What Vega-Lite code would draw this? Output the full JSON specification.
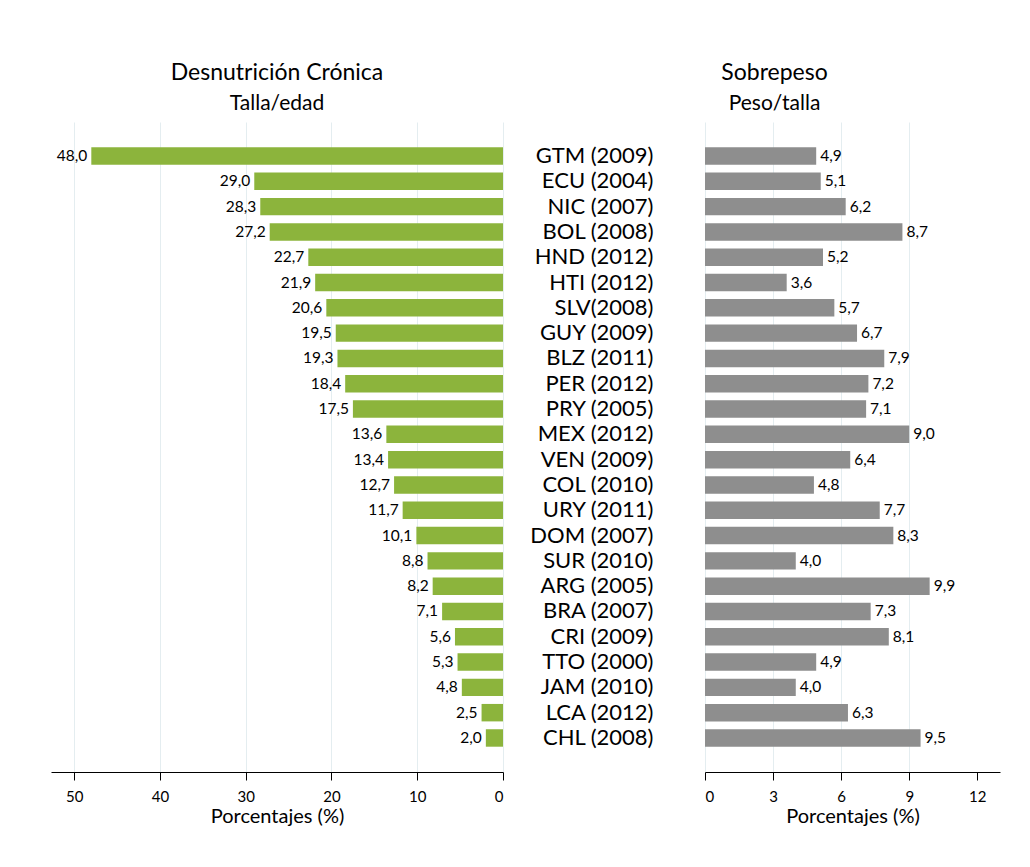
{
  "$schema": "https://vega.github.io/schema/vega-lite/v6.json",
  "padding": {"left": 51, "top": 62, "right": 5, "bottom": 5},
  "background": "white",
  "data": {"values": [
    {"pais": "GTM (2009)", "desn": 48.0, "sobre": 4.9},
    {"pais": "ECU (2004)", "desn": 29.0, "sobre": 5.1},
    {"pais": "NIC (2007)", "desn": 28.3, "sobre": 6.2},
    {"pais": "BOL (2008)", "desn": 27.2, "sobre": 8.7},
    {"pais": "HND (2012)", "desn": 22.7, "sobre": 5.2},
    {"pais": "HTI (2012)", "desn": 21.9, "sobre": 3.6},
    {"pais": "SLV(2008)", "desn": 20.6, "sobre": 5.7},
    {"pais": "GUY (2009)", "desn": 19.5, "sobre": 6.7},
    {"pais": "BLZ (2011)", "desn": 19.3, "sobre": 7.9},
    {"pais": "PER (2012)", "desn": 18.4, "sobre": 7.2},
    {"pais": "PRY (2005)", "desn": 17.5, "sobre": 7.1},
    {"pais": "MEX (2012)", "desn": 13.6, "sobre": 9.0},
    {"pais": "VEN (2009)", "desn": 13.4, "sobre": 6.4},
    {"pais": "COL (2010)", "desn": 12.7, "sobre": 4.8},
    {"pais": "URY (2011)", "desn": 11.7, "sobre": 7.7},
    {"pais": "DOM (2007)", "desn": 10.1, "sobre": 8.3},
    {"pais": "SUR (2010)", "desn": 8.8, "sobre": 4.0},
    {"pais": "ARG (2005)", "desn": 8.2, "sobre": 9.9},
    {"pais": "BRA (2007)", "desn": 7.1, "sobre": 7.3},
    {"pais": "CRI (2009)", "desn": 5.6, "sobre": 8.1},
    {"pais": "TTO (2000)", "desn": 5.3, "sobre": 4.9},
    {"pais": "JAM (2010)", "desn": 4.8, "sobre": 4.0},
    {"pais": "LCA (2012)", "desn": 2.5, "sobre": 6.3},
    {"pais": "CHL (2008)", "desn": 2.0, "sobre": 9.5}
  ]},
  "hconcat": [
    {
      "width": 452,
      "height": 650,
      "title": {"text": "Desnutrición Crónica", "subtitle": "Talla/edad", "anchor": "middle", "fontSize": 23, "subtitleFontSize": 21, "fontWeight": "normal", "font": "Lato", "subtitleFont": "Lato", "color": "black", "subtitleColor": "black", "subtitlePadding": 8, "offset": 8},
      "encoding": {
        "y": {"field": "pais", "type": "nominal", "sort": null, "axis": null, "scale": {"paddingInner": 0.31, "paddingOuter": 1.02}},
        "x": {"field": "desn", "type": "quantitative", "scale": {"domain": [0, 52.7], "reverse": true, "nice": false, "zero": true},
          "axis": {"values": [0, 10, 20, 30, 40, 50], "title": "Porcentajes (%)", "format": "d"}}
      },
      "layer": [
        {"mark": {"type": "bar", "color": "#8CB43C"}},
        {"mark": {"type": "text", "align": "right", "baseline": "middle", "dx": -4, "font": "Lato", "fontSize": 15.5, "color": "black"},
         "encoding": {"text": {"field": "desn", "type": "quantitative", "format": ".1f"}}}
      ]
    },
    {
      "width": 295,
      "height": 650,
      "title": {"text": "Sobrepeso", "subtitle": "Peso/talla", "anchor": "middle", "dx": -78, "fontSize": 23, "subtitleFontSize": 21, "fontWeight": "normal", "font": "Lato", "subtitleFont": "Lato", "color": "black", "subtitleColor": "black", "subtitlePadding": 8, "offset": 8},
      "encoding": {
        "y": {"field": "pais", "type": "nominal", "sort": null, "scale": {"paddingInner": 0.31, "paddingOuter": 1.02},
          "axis": {"title": null, "domain": false, "ticks": false, "tickSize": 0, "labelPadding": 52, "labelFontSize": 22, "labelFont": "Lato", "labelColor": "black", "grid": false}},
        "x": {"field": "sobre", "type": "quantitative", "scale": {"domain": [0, 13], "nice": false},
          "axis": {"values": [0, 3, 6, 9, 12], "title": "Porcentajes (%)", "format": "d",
            "gridColor": {"condition": {"test": "datum.value === 12", "value": "transparent"}, "value": "#E4EDF0"}}}
      },
      "layer": [
        {"mark": {"type": "bar", "color": "#8E8E8E"}},
        {"mark": {"type": "text", "align": "left", "baseline": "middle", "dx": 4, "font": "Lato", "fontSize": 15.5, "color": "black"},
         "encoding": {"text": {"field": "sobre", "type": "quantitative", "format": ".1f"}}}
      ]
    }
  ],
  "spacing": 202,
  "bounds": "flush",
  "config": {
    "locale": {"number": {"decimal": ",", "thousands": ".", "grouping": [3], "currency": ["", " €"]}},
    "view": {"stroke": null},
    "axisX": {"grid": true, "gridColor": "#E4EDF0", "gridWidth": 1, "domainColor": "black", "domainWidth": 1, "tickColor": "black", "tickSize": 8, "labelPadding": 9, "labelFont": "Lato", "labelFontSize": 15, "labelColor": "black", "titleFont": "Lato", "titleFontSize": 20, "titleFontWeight": "normal", "titleColor": "black", "titlePadding": 2}
  }
}
